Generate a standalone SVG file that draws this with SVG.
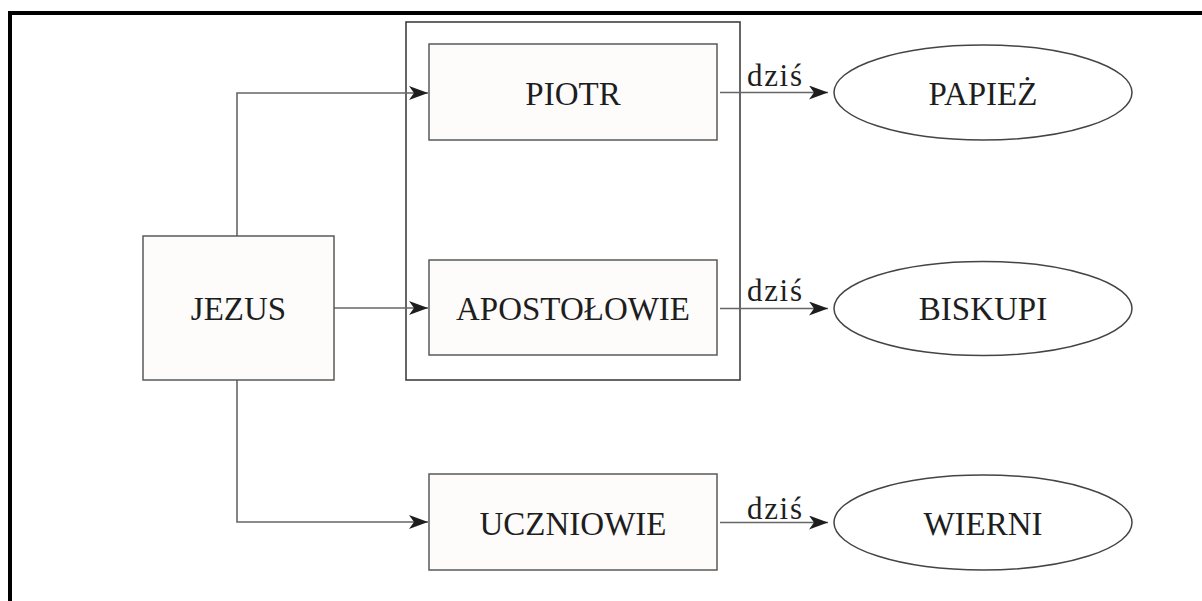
<svg xmlns="http://www.w3.org/2000/svg" width="1202" height="601" viewBox="0 0 1202 601">
<style>
.box{fill:#fdfcfb;stroke:#5a5a5a;stroke-width:1.5}
.ell{fill:#ffffff;stroke:#444;stroke-width:1.5}
.lbl{font-size:33px;fill:#1e1e1e;text-anchor:middle}
.dz{font-size:31px;fill:#1e1e1e}
.ln{fill:none;stroke:#666;stroke-width:1.6}
</style>
<defs>
<marker id="ah" markerUnits="userSpaceOnUse" markerWidth="22" markerHeight="16" refX="19" refY="7" orient="auto">
<path d="M0,0 L19,7 L0,14 L5,7 Z" fill="#1e1e1e"/>
</marker>
</defs>
<rect width="1202" height="601" fill="#ffffff"/>
<path d="M10,601 V13 H1202" fill="none" stroke="#000" stroke-width="4"/>
<g id="container">
<rect x="406" y="22" width="334" height="358" fill="none" stroke="#333" stroke-width="1.5"/>
</g>
<g id="connectors" font-family="'Liberation Serif', 'DejaVu Serif', serif">
<path class="ln" d="M237,236 V93 H428" marker-end="url(#ah)"/>
<path class="ln" d="M334,308 H428" marker-end="url(#ah)"/>
<path class="ln" d="M237,380 V522 H428" marker-end="url(#ah)"/>
<path class="ln" d="M720,92.5 H828" marker-end="url(#ah)"/>
<path class="ln" d="M720,308.5 H828" marker-end="url(#ah)"/>
<path class="ln" d="M720,522.5 H828" marker-end="url(#ah)"/>
<text class="dz" x="747" y="86" textLength="55" lengthAdjust="spacing">dziś</text>
<text class="dz" x="747" y="301" textLength="55" lengthAdjust="spacing">dziś</text>
<text class="dz" x="747" y="519" textLength="55" lengthAdjust="spacing">dziś</text>
</g>
<g font-family="'Liberation Serif', 'DejaVu Serif', serif">
<g id="jezus">
<rect class="box" x="143" y="236" width="191" height="144"/>
<text class="lbl" x="238.5" y="320">JEZUS</text>
</g>
<g id="piotr">
<rect class="box" x="429" y="44" width="288" height="96"/>
<text class="lbl" x="573" y="105">PIOTR</text>
</g>
<g id="apostolowie">
<rect class="box" x="429" y="260" width="288" height="95"/>
<text class="lbl" x="573" y="320">APOSTOŁOWIE</text>
</g>
<g id="uczniowie">
<rect class="box" x="429" y="474" width="288" height="96"/>
<text class="lbl" x="573" y="535">UCZNIOWIE</text>
</g>
<g id="papiez">
<ellipse class="ell" cx="983" cy="92.5" rx="149" ry="47.5"/>
<text class="lbl" x="983" y="105">PAPIEŻ</text>
</g>
<g id="biskupi">
<ellipse class="ell" cx="983" cy="308.5" rx="149" ry="47"/>
<text class="lbl" x="983" y="320">BISKUPI</text>
</g>
<g id="wierni">
<ellipse class="ell" cx="983" cy="522.5" rx="149" ry="47.5"/>
<text class="lbl" x="983" y="535">WIERNI</text>
</g>
</g>
</svg>
